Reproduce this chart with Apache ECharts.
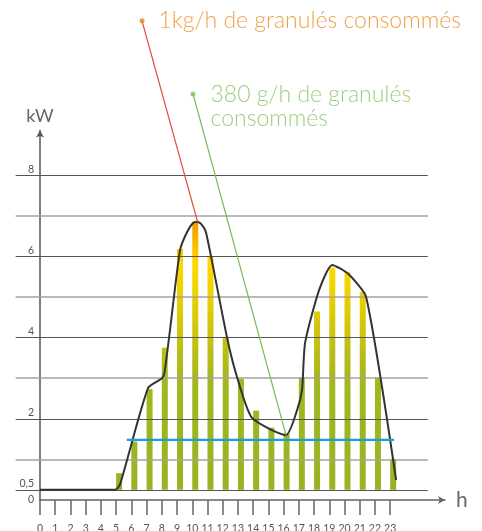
<!DOCTYPE html>
<html>
<head>
<meta charset="utf-8">
<script src="https://cdn.jsdelivr.net/npm/echarts@6/dist/echarts.min.js"></script>
<style>html,body{margin:0;padding:0;background:#fff}#c{width:482px;height:531px}</style>
</head>
<body>
<div id="c"></div>
<script>
// ---- data ----
const hours = [0,1,2,3,4,5,6,7,8,9,10,11,12,13,14,15,16,17,18,19,20,21,22,23];
const barHours = [5,6,7,8,9,10,11,12,13,14,15,16,17,18,19,20,21,22,23];
const barTops = [0.66,1.44,2.73,3.75,6.18,6.85,6.0,4.0,2.98,2.2,1.78,1.64,3.02,4.64,5.72,5.61,5.13,3.02,1.01];
const barBase = 0.25;
const curveX = [0,4.93,5.26,7.10,8.02,8.18,8.54,9.20,9.66,10.05,10.32,10.58,10.91,12.29,12.94,13.93,16.16,16.89,17.21,17.41,18.33,19.19,20.24,21.42,23.39];
const curveY = [0.25,0.25,0.39,2.76,3.00,3.15,4.19,6.16,6.60,6.82,6.85,6.80,6.58,3.99,3.03,2.02,1.60,2.22,2.71,3.87,5.17,5.79,5.57,5.00,0.49];
const blueLevel = 1.48;
const blueRange = [5.7, 23.25];
const gridLevels = [0.25,1,2,3,4,5,6,7,8];
const majorLevels = [0.25,2,4,6,8];
const gridRange = [-1.6, 25.47];
const yTickValues = [0,0.25,2,4,6,8];
const yTickLabels = ['0','0,5','2','4','6','8'];
const annoKgText = '1kg/h de granulés consommés';
const annoKgFrom = [6.70, 11.80];
const annoKgTo = [10.35, 6.85];
const annoGText = '380 g/h de granulés\nconsommés';
const annoGFrom = [10.05, 10.0];
const annoGTo = [16.16, 1.60];

const FONT = 'Lato, "Open Sans", sans-serif';
const chart = echarts.init(document.getElementById('c'), null, {renderer:'canvas'});
const BAR_W = 6;

const barGrad = new echarts.graphic.LinearGradient(0, 222, 0, 490, [
  {offset:0, color:'#f39a00'},
  {offset:0.09, color:'#f7bf00'},
  {offset:0.15, color:'#ffd900'},
  {offset:0.29, color:'#e8d000'},
  {offset:0.43, color:'#c8c212'},
  {offset:0.58, color:'#a4b71e'},
  {offset:1, color:'#98b322'}
], true);

const gridData = gridLevels.map(v => {
  const major = majorLevels.indexOf(v) >= 0;
  return {
    coords: [[gridRange[0], v], [gridRange[1], v]],
    lineStyle: major ? {color:'#555', width:1.1, opacity:1} : {color:'#a3a3a3', width:1.6, opacity:1}
  };
});

const option = {
  animation: false,
  grid: {left:40, right:37, top:130.5, bottom:31, containLabel:false, outerBoundsMode:'none'},
  xAxis: {
    type:'value', min:0, max:26.6,
    name:'h', nameLocation:'end', nameGap:11,
    nameTextStyle:{fontSize:21, color:'#666', fontFamily:FONT, verticalAlign:'middle', padding:[0,0,4,0]},
    axisLine:{show:true, onZero:false, symbol:['none','arrow'], symbolSize:[6,7], lineStyle:{color:'#666', width:1.5}},
    axisTick:{show:true, customValues:hours, length:15, lineStyle:{color:'#666', width:1.5}},
    axisLabel:{customValues:hours, margin:23, fontSize:10.5, color:'#555', fontFamily:FONT},
    splitLine:{show:false}
  },
  yAxis: {
    type:'value', min:0, max:9.1,
    name:'kW', nameLocation:'end', nameGap:5,
    nameTextStyle:{fontSize:18, color:'#666', fontFamily:FONT},
    axisLine:{show:true, symbol:['none','arrow'], symbolSize:[6,7], lineStyle:{color:'#555', width:1.5}},
    axisTick:{show:false},
    axisLabel:{
      customValues:yTickValues, margin:6, fontSize:10.5, color:'#555', fontFamily:FONT,
      formatter: v => {
        const i = yTickValues.indexOf(v);
        const t = i >= 0 ? yTickLabels[i] : '';
        return v === 0 ? '{mid|' + t + '}' : '{up|' + t + '}';
      },
      rich:{
        up:{fontSize:10.5, color:'#555', fontFamily:FONT, padding:[0,0,12,0]},
        mid:{fontSize:10.5, color:'#555', fontFamily:FONT}
      }
    },
    splitLine:{show:false}
  },
  series: [
    {
      type:'custom', silent:true, z:2,
      data: barHours.map((h, i) => [h, barTops[i]]),
      renderItem: (params, api) => {
        const x = api.value(0);
        const p0 = api.coord([x, barBase]);
        const p1 = api.coord([x, api.value(1)]);
        return {
          type:'rect',
          shape:{x:p0[0], y:p1[1], width:BAR_W, height:p0[1] - p1[1]},
          style:{fill:barGrad}
        };
      }
    },
    {
      type:'lines', coordinateSystem:'cartesian2d', clip:false, silent:true, z:3,
      polyline:false, symbol:'none',
      data: gridData
    },
    {
      type:'line', silent:true, z:5, showSymbol:false, symbol:'none', smooth:0.2,
      lineStyle:{color:'#333', width:2},
      data: curveX.map((x, i) => [x, curveY[i]])
    },
    {
      type:'line', silent:true, z:6, showSymbol:false, symbol:'none',
      lineStyle:{color:'#1b9ce0', width:2.2},
      data: [[blueRange[0], blueLevel], [blueRange[1], blueLevel]]
    },
    {
      type:'lines', coordinateSystem:'cartesian2d', clip:false, silent:true, z:7,
      polyline:false, symbol:'none',
      data: [
        {coords:[annoKgFrom, annoKgTo], lineStyle:{color:'#de4b35', width:1.2, opacity:1}},
        {coords:[annoGFrom, annoGTo], lineStyle:{color:'#74bb50', width:1.2, opacity:1}}
      ]
    },
    {
      type:'scatter', clip:false, silent:true, z:8, symbolSize:5,
      data: [
        {value:annoKgFrom, itemStyle:{color:'#e3851d'},
          label:{show:true, position:'right', distance:14, formatter:annoKgText,
            fontSize:23, color:'#e8891c', fontFamily:FONT, fontWeight:300}},
        {value:annoGFrom, itemStyle:{color:'#7cbf59'},
          label:{show:true, position:'right', distance:15, offset:[0,13], formatter:annoGText,
            fontSize:23, lineHeight:24, color:'#86c35e', fontFamily:FONT, fontWeight:300}}
      ]
    }
  ]
};
chart.setOption(option);
</script>
</body>
</html>
